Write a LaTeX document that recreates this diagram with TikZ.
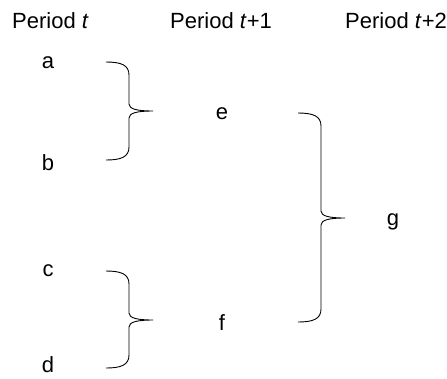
\documentclass[tikz,border=0pt]{standalone}
\usepackage{fontspec}
\setmainfont{Liberation Sans}
\usepackage{tikz}
% brace: #1 = x of the free ends, #2 = top, #3 = tip, #4 = bottom (all in px, y down)
\newcommand{\grpbrace}[4]{%
  \draw[brace] (#1,#2) .. controls (#1+15,#2) and (#1+23,#2+3) .. (#1+23,#2+13)
    -- (#1+23,#3-7) .. controls (#1+23,#3-2) and (#1+31,#3) .. (#1+47,#3)
    .. controls (#1+31,#3) and (#1+23,#3+2) .. (#1+23,#3+7)
    -- (#1+23,#4-13) .. controls (#1+23,#4-3) and (#1+15,#4) .. (#1,#4);}

\begin{document}
\begin{tikzpicture}[
      x=1bp, y=-1bp,
      every node/.style={inner sep=0pt, font=\fontsize{22bp}{26bp}\selectfont},
      period/.style={anchor=base west},
      item/.style={anchor=base},
      brace/.style={line width=0.9pt}
    ]
    \useasboundingbox (0,0) rectangle (447,378);

    % column heads
    \node[period] (pt)  at (12,28)  {Period \textit{t}};
    \node[period] (pt1) at (170,28) {Period \textit{t}+1};
    \node[period] (pt2) at (345,28) {Period \textit{t}+2};

    % period t
    \node[item] (a) at (48,68)  {a};
    \node[item] (b) at (48,170) {b};
    \node[item] (c) at (48,276) {c};
    \node[item] (d) at (48,372) {d};

    % period t+1
    \node[item] (e) at (222,119) {e};
    \node[item] (f) at (222,330) {f};

    % period t+2
    \node[item] (g) at (393,225) {g};

    % a, b into e -- c, d into f -- e, f into g
    \grpbrace{106}{62}{111}{160}
    \grpbrace{106}{271}{320}{368}
    \grpbrace{298}{113}{218}{322}
\end{tikzpicture}
\end{document}
